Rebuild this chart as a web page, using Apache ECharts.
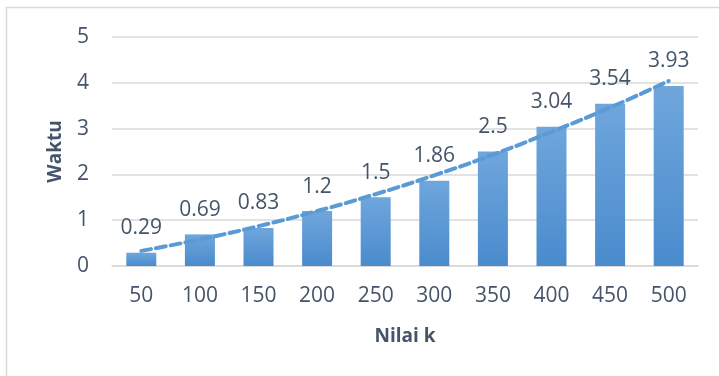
<!DOCTYPE html>
<html>
<head>
<meta charset="utf-8">
<script src="https://cdn.jsdelivr.net/npm/echarts@6/dist/echarts.min.js"></script>
<style>
  html, body { margin: 0; padding: 0; background: #fff; }
</style>
</head>
<body>
<div id="chart" style="width: 719px; height: 376px;"></div>
<script>
// data
const kValues = ['50', '100', '150', '200', '250', '300', '350', '400', '450', '500']
const waktu = [0.29, 0.69, 0.83, 1.2, 1.5, 1.86, 2.5, 3.04, 3.54, 3.93]
// dashed trend line
const trend = [0.33, 0.58, 0.87, 1.2, 1.57, 1.98, 2.43, 2.93, 3.46, 4.04]
const yTicks = [0, 1, 2, 3, 4, 5]

const textColor = '#44546a'
const font = '"Open Sans", "Liberation Sans", sans-serif'

const myChart = echarts.init(document.getElementById('chart'))

const option = {
  animation: false,
  textStyle: { fontFamily: font },
  graphic: [
    {
      type: 'rect',
      shape: { x: 6.5, y: 7.5, width: 720, height: 380 },
      style: { fill: 'none', stroke: '#d9d9d9', lineWidth: 1.5 },
      silent: true
    }
  ],
  grid: {
    left: 112,
    right: 21,
    top: 37,
    bottom: 110
  },
  xAxis: {
    type: 'category',
    data: kValues,
    name: 'Nilai k',
    nameLocation: 'middle',
    nameGap: 61,
    nameTextStyle: {
      color: textColor,
      fontSize: 19,
      fontWeight: 'bold',
      fontFamily: font
    },
    axisLine: { show: true, lineStyle: { color: '#d9d9d9', width: 1.5 } },
    axisTick: { show: false },
    axisLabel: {
      color: textColor,
      fontSize: 21,
      margin: 20,
      fontFamily: font
    }
  },
  yAxis: {
    type: 'value',
    min: yTicks[0],
    max: yTicks[yTicks.length - 1],
    interval: 1,
    name: 'Waktu',
    nameLocation: 'middle',
    nameGap: 47,
    nameTextStyle: {
      color: textColor,
      fontSize: 19,
      fontWeight: 'bold',
      fontFamily: font
    },
    axisLine: { show: false },
    axisTick: { show: false },
    axisLabel: {
      color: textColor,
      fontSize: 21,
      margin: 23,
      fontFamily: font
    },
    splitLine: {
      lineStyle: { color: '#d9d9d9', width: 1.5 }
    }
  },
  series: [
    {
      name: 'Waktu',
      type: 'bar',
      data: waktu,
      barWidth: 30,
      itemStyle: {
        color: new echarts.graphic.LinearGradient(0, 0, 0, 1, [
          { offset: 0, color: '#6fa6dc' },
          { offset: 1, color: '#4a8bcd' }
        ])
      },
      label: {
        show: true,
        position: 'top',
        distance: 14,
        color: textColor,
        fontSize: 21,
        fontFamily: font
      }
    },
    {
      name: 'Trend',
      type: 'line',
      data: trend,
      smooth: true,
      symbol: 'none',
      z: 5,
      lineStyle: {
        color: '#5b9bd5',
        width: 4,
        type: [10, 5],
        cap: 'round'
      }
    }
  ]
}

myChart.setOption(option)
</script>
</body>
</html>
